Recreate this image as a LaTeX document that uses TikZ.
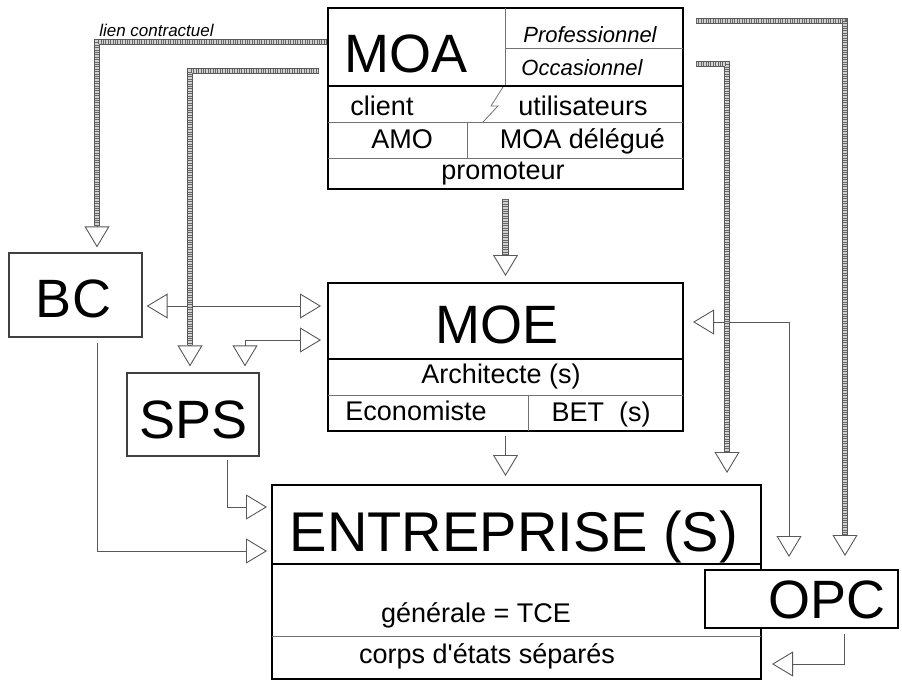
\documentclass[tikz,border=0pt]{standalone}
\usepackage{fontspec}
\setmainfont{Liberation Sans}
\usepackage{tikz}
\usetikzlibrary{arrows.meta}

\begin{document}
\begin{tikzpicture}[
    x=1pt, y=-1pt,
    >={Triangle[open, length=21pt, width=25pt]},
    boite/.style={rectangle, draw=black, line width=2pt, fill=white, inner sep=0pt},
    petiteboite/.style={rectangle, draw=black!75, line width=1.2pt, fill=white, inner sep=0pt},
    gros/.style={font=\fontsize{54}{60}\selectfont, inner sep=0pt, anchor=base},
    moyen/.style={font=\fontsize{27}{32}\selectfont, inner sep=0pt, anchor=base},
    fin/.style={draw=black!55, line width=1pt},
    fleche/.style={draw=black!65, line width=0.9pt},
    lien/.style={->, draw=black!65, line width=0.9pt,
        postaction={draw=black!65, line width=6.5pt, -, shorten >=21pt},
        postaction={draw=gray!35, line width=4.5pt, -, shorten >=21pt},
        postaction={draw=black!60, line width=4.5pt, -, shorten >=21pt, dash pattern=on 0.8pt off 1.6pt}}
]
\useasboundingbox[fill=white] (0,0) rectangle (902,688);

% boites
\node (moa) [boite, minimum width=355pt, minimum height=181pt] at (505.5,98.5) {};
\node (moe) [boite, minimum width=355pt, minimum height=148pt] at (505.5,357) {};
\node (entreprise) [boite, minimum width=489pt, minimum height=194pt] at (516.5,582) {};
\node (bc) [petiteboite, minimum width=133pt, minimum height=84pt] at (75.5,295) {};
\node (sps) [petiteboite, minimum width=132pt, minimum height=83pt] at (193,414.5) {};

% MOA
\draw[fin] (505,8) -- (505,86);
\draw[fin] (505,48) -- (683,48);
\draw[line width=2pt] (328,86) -- (683,86);
\draw[fin] (328,122) -- (683,122);
\draw[fin] (467,122) -- (467,158);
\draw[fin] (328,158) -- (683,158);
\draw[fin, line width=0.8pt] (503,87) -- (491,106) -- (498,106) -- (483,122);
\node (tmoa) [gros] at (406,72) {MOA};
\node (pro) [moyen, font=\fontsize{22}{26}\selectfont\itshape] at (590,42) {Professionnel};
\node (occ) [moyen, font=\fontsize{22}{26}\selectfont\itshape] at (582,75) {Occasionnel};
\node (client) [moyen] at (382,115) {client};
\node (util) [moyen] at (583,115) {utilisateurs};
\node (amo) [moyen] at (402,148) {AMO};
\node (moad) [moyen] at (582.5,148) {MOA délégué};
\node (promo) [moyen] at (503,179) {promoteur};

% MOE
\draw[line width=2pt] (328,359) -- (683,359);
\draw[fin] (328,395) -- (683,395);
\draw[fin] (528,395) -- (528,431);
\node (tmoe) [gros] at (497,343) {MOE};
\node (archi) [moyen] at (501,383) {Architecte (s)};
\node (eco) [moyen] at (416,420) {Economiste};
\node (bet) [moyen] at (601,421) {BET\ \ (s)};

% ENTREPRISE
\draw[line width=2pt] (272,564) -- (761,564);
\draw[fin] (272,636) -- (761,636);
\node (tent) [gros, font=\fontsize{56}{60}\selectfont] at (514,551) {ENTREPRISE (S)};
\node (gen) [moyen] at (476,622) {générale = TCE};
\node (corps) [moyen] at (487,663) {corps d\textquotesingle états séparés};

\node (opc) [boite, minimum width=193pt, minimum height=58pt] at (801.5,599) {};
\node (topc) [gros] at (826.5,618) {OPC};
\node (tbc) [gros] at (73.5,317) {BC};
\node (tsps) [gros] at (193.5,438) {SPS};

% liaisons simples
\draw[fleche, <->] ([shift={(4,11)}]bc.east) -- ([shift={(-6,-51)}]moe.west);
\draw[fleche, <->] ([shift={(52,-6)}]sps.north) |- ([shift={(-6,-17)}]moe.west);
\draw[fleche, ->] ([shift={(21.5,5)}]bc.south) |- ([shift={(-4,-31)}]entreprise.west);
\draw[fleche, ->] ([shift={(34,3)}]sps.south) |- ([shift={(-4,-75)}]entreprise.west);
\draw[fleche, ->, shorten <=4pt, shorten >=8pt] (moe.south) -- (moe.south |- entreprise.north);
\draw[fleche, <->] ([shift={(9,-35)}]moe.east) -| ([shift={(-12.5,-12)}]opc.north);
\draw[fleche, ->] ([shift={(42.5,5)}]opc.south) |- ([shift={(10,-16)}]entreprise.south east);

% liens contractuels
\node (lien) [font=\fontsize{17}{20}\selectfont\itshape, inner sep=0pt, anchor=base] at (156.5,36) {lien contractuel};
\draw[lien] ([shift={(0,35)}]moa.north west) -| ([shift={(21.5,-5)}]bc.north);
\draw[lien] ([shift={(-8,64)}]moa.north west) -| ([shift={(-3,-6)}]sps.north);
\draw[lien] ([shift={(0,9)}]moa.south) -- ([shift={(0,-6)}]moe.north);
\draw[lien] ([shift={(12,57)}]moa.north east) -| ([shift={(-35,-11)}]entreprise.north east);
\draw[lien] ([shift={(12,14)}]moa.north east) -| ([shift={(-54,-13)}]opc.north east);
\end{tikzpicture}
\end{document}
